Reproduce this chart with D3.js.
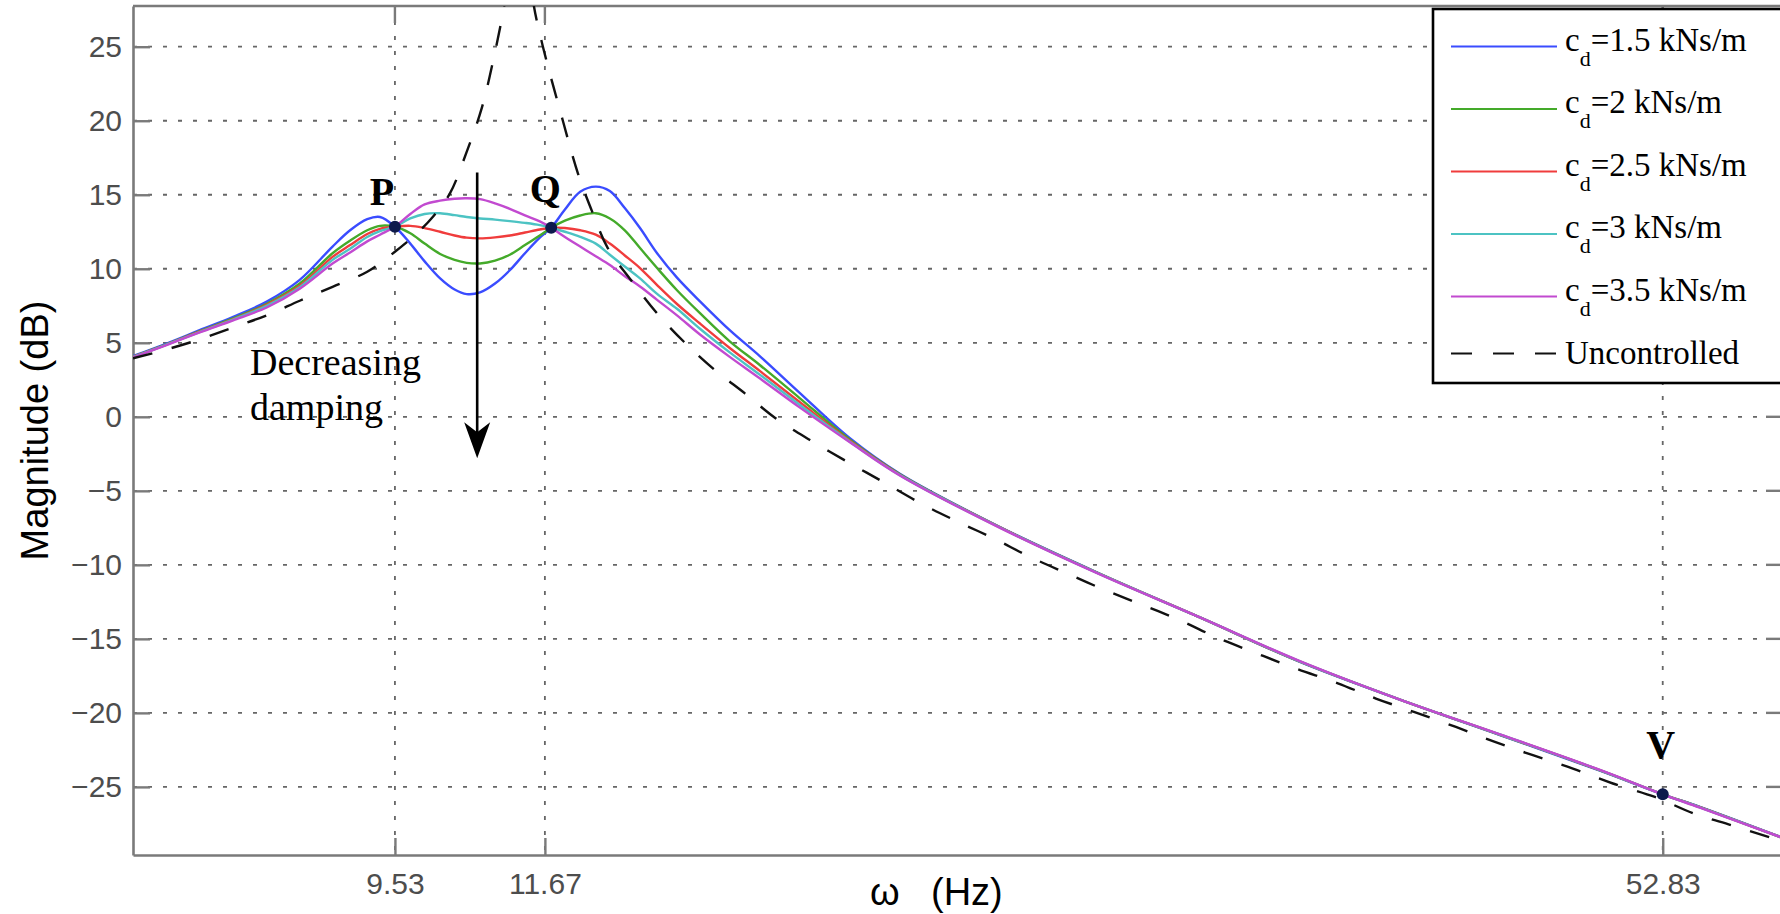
<!DOCTYPE html>
<html>
<head>
<meta charset="utf-8">
<script src="https://cdn.jsdelivr.net/npm/d3@7"></script>
<style>
  body { margin: 0; background: #fff; }
  svg { display: block; }
</style>
</head>
<body>
<svg id="chart" width="1780" height="914"></svg>
<script>
// ---------- DATA ----------
const freq = [6.69, 7.00, 7.32, 7.66, 8.02, 8.38, 8.76, 8.97, 9.18, 9.34, 9.53, 9.73, 9.92, 10.13, 10.33, 10.50, 10.69, 10.91, 11.13, 11.36, 11.59, 11.77, 11.99, 12.24, 12.50, 12.74, 13.00, 13.27, 13.58, 13.95, 14.39, 14.98, 15.60, 16.47, 17.62, 18.85, 21.58, 24.70, 28.27, 32.36, 37.04, 42.40, 48.53, 52.83, 55.55, 62.15];

const cd15 = [4.10, 4.95, 5.85, 6.75, 7.80, 9.25, 11.50, 12.60, 13.35, 13.50, 12.84, 11.70, 10.50, 9.35, 8.60, 8.29, 8.40, 9.00, 9.90, 11.05, 12.10, 12.77, 14.00, 15.20, 15.55, 15.25, 14.10, 12.75, 11.05, 9.40, 7.80, 5.85, 4.10, 1.60, -1.45, -3.85, -7.45, -10.60, -13.55, -16.55, -19.10, -21.50, -23.90, -25.50, -26.35, -28.45];
const cd20 = [4.05, 4.90, 5.78, 6.65, 7.65, 9.00, 11.05, 11.90, 12.60, 12.90, 12.84, 12.40, 11.70, 11.00, 10.60, 10.40, 10.36, 10.55, 10.95, 11.60, 12.25, 12.77, 13.25, 13.60, 13.75, 13.40, 12.60, 11.40, 10.05, 8.55, 7.00, 5.10, 3.50, 1.25, -1.55, -3.88, -7.46, -10.61, -13.55, -16.54, -19.10, -21.48, -23.88, -25.50, -26.36, -28.45];
const cd25 = [4.05, 4.88, 5.75, 6.60, 7.58, 8.85, 10.80, 11.60, 12.35, 12.70, 12.84, 12.90, 12.75, 12.50, 12.25, 12.10, 12.05, 12.12, 12.25, 12.45, 12.65, 12.77, 12.75, 12.60, 12.30, 11.70, 10.90, 10.05, 8.90, 7.62, 6.30, 4.65, 3.10, 0.98, -1.62, -3.91, -7.47, -10.62, -13.55, -16.53, -19.10, -21.47, -23.87, -25.50, -26.37, -28.45];
const cd30 = [4.03, 4.87, 5.72, 6.57, 7.52, 8.75, 10.60, 11.35, 12.15, 12.55, 12.84, 13.40, 13.70, 13.75, 13.62, 13.50, 13.40, 13.32, 13.22, 13.10, 12.95, 12.77, 12.50, 12.16, 11.70, 10.95, 10.15, 9.35, 8.30, 7.30, 5.95, 4.35, 2.85, 0.80, -1.68, -3.94, -7.48, -10.63, -13.55, -16.52, -19.10, -21.46, -23.86, -25.50, -26.38, -28.45];
const cd35 = [4.00, 4.85, 5.70, 6.52, 7.40, 8.65, 10.35, 11.10, 11.85, 12.30, 12.84, 13.70, 14.35, 14.60, 14.73, 14.76, 14.70, 14.42, 14.05, 13.60, 13.20, 12.77, 12.15, 11.50, 10.85, 10.25, 9.50, 8.80, 7.90, 6.85, 5.56, 4.05, 2.60, 0.62, -1.72, -3.96, -7.50, -10.65, -13.55, -16.50, -19.10, -21.45, -23.85, -25.50, -26.40, -28.45];

const uncFreq = [6.69, 7.00, 7.32, 7.66, 8.02, 8.38, 8.76, 9.18, 9.53, 9.817, 10.032, 10.265, 10.50, 10.719, 10.894, 11.027, 11.102, 11.268, 11.452, 11.498, 11.639, 11.958, 12.202, 12.452, 12.707, 13.108, 13.58, 14.081, 14.683, 15.290, 15.944, 16.694, 17.597, 18.424, 19.394, 20.388, 21.404, 22.471, 23.622, 24.866, 26.176, 27.518, 29.006, 30.534, 32.186, 34.064, 35.859, 37.748, 39.951, 42.113, 44.331, 46.791, 49.389, 52.273, 55.100, 58.002, 61.388, 62.15];
const uncMag = [3.95, 4.55, 5.23, 6.04, 6.87, 7.84, 8.78, 9.80, 11.15, 12.39, 13.51, 15.09, 17.90, 20.90, 24.30, 27.30, 29.50, 40.00, 29.50, 27.75, 25.00, 19.98, 16.45, 13.74, 11.38, 9.24, 6.99, 5.07, 3.16, 1.58, -0.11, -1.57, -3.10, -4.39, -5.85, -7.09, -8.22, -9.46, -10.58, -11.70, -12.72, -13.74, -14.97, -15.99, -17.00, -18.00, -19.03, -19.93, -20.95, -21.96, -22.86, -23.76, -24.77, -25.68, -26.80, -27.60, -28.49, -28.70];

const seriesValues = [cd15, cd20, cd25, cd30, cd35];
const seriesDamping = ["1.5", "2", "2.5", "3", "3.5"];
const seriesColors = ["#3a4cff", "#44aa2a", "#f03c3c", "#4cc3c3", "#c24ad0"];

const xTicks = [9.53, 11.67, 52.83];
const yTicks = [-25, -20, -15, -10, -5, 0, 5, 10, 15, 20, 25];

const keyPoints = [
  { name: "P", f: 9.53,  m: 12.84, dx: -13, dy: -22 },
  { name: "Q", f: 11.77, m: 12.77, dx: -6,  dy: -26 },
  { name: "V", f: 52.83, m: -25.5, dx: -2,  dy: -36 }
];

const arrowF = 10.65, arrowTop = 16.5, arrowTip = -2.8;

// ---------- LAYOUT ----------
const L = 133, R = 1783, T = 6, B = 855;
const svg = d3.select("#chart");
const x = d3.scaleLog().domain([6.69, 62.15]).range([L, R]);
const y = d3.scaleLinear().domain([-29.6, 27.75]).range([B, T]);

svg.append("rect").attr("width", 1780).attr("height", 914).attr("fill", "#fff");

svg.append("defs").append("clipPath").attr("id", "plotclip")
  .append("rect").attr("x", L).attr("y", T).attr("width", R - L).attr("height", B - T);

// grid
const gridColor = "#666";
const grid = svg.append("g");
grid.selectAll("line.h").data(yTicks).join("line")
  .attr("class", "h")
  .attr("x1", L).attr("x2", R).attr("y1", d => y(d)).attr("y2", d => y(d))
  .attr("stroke", gridColor).attr("stroke-width", 1.8).attr("stroke-dasharray", "4,11");
grid.selectAll("line.v").data(xTicks).join("line")
  .attr("class", "v")
  .attr("y1", T).attr("y2", B).attr("x1", d => x(d)).attr("x2", d => x(d))
  .attr("stroke", gridColor).attr("stroke-width", 1.8).attr("stroke-dasharray", "4,11");

// axes
const axisColor = "#7a7a7a";
const tickFont = "'Liberation Sans', Arial, sans-serif";
const xAxis = svg.append("g").attr("transform", `translate(0,${B})`)
  .call(d3.axisBottom(x).tickValues(xTicks).tickFormat(d3.format(".2f"))
    .tickSizeInner(-17).tickSizeOuter(0).tickPadding(18));
const yAxis = svg.append("g").attr("transform", `translate(${L},0)`)
  .call(d3.axisLeft(y).tickValues(yTicks).tickFormat(d3.format("d"))
    .tickSizeInner(-17).tickSizeOuter(0).tickPadding(11));
[xAxis, yAxis].forEach(g => {
  g.select(".domain").attr("stroke", axisColor).attr("stroke-width", 2.6);
  g.selectAll(".tick line").attr("stroke", axisColor).attr("stroke-width", 2.4);
  g.selectAll(".tick text").attr("fill", "#4d4d4d")
    .style("font-family", tickFont).style("font-size", "30px");
});
// top and right frame with ticks
const frame = svg.append("g");
frame.append("line").attr("x1", L).attr("x2", R).attr("y1", T).attr("y2", T)
  .attr("stroke", axisColor).attr("stroke-width", 2.6);
frame.append("line").attr("x1", R).attr("x2", R).attr("y1", T).attr("y2", B)
  .attr("stroke", axisColor).attr("stroke-width", 2.6);
frame.selectAll("line.tt").data(xTicks).join("line").attr("class", "tt")
  .attr("x1", d => x(d)).attr("x2", d => x(d)).attr("y1", T).attr("y2", T + 17)
  .attr("stroke", axisColor).attr("stroke-width", 2.4);
frame.selectAll("line.rt").data(yTicks).join("line").attr("class", "rt")
  .attr("y1", d => y(d)).attr("y2", d => y(d)).attr("x1", R - 17).attr("x2", R)
  .attr("stroke", axisColor).attr("stroke-width", 2.4);

// curves
const line = d3.line()
  .x(d => x(d[0])).y(d => y(d[1]))
  .curve(d3.curveCatmullRom.alpha(0.5));

const plot = svg.append("g").attr("clip-path", "url(#plotclip)");
seriesValues.forEach((vals, i) => {
  plot.append("path")
    .datum(freq.map((f, j) => [f, vals[j]]))
    .attr("d", line)
    .attr("fill", "none")
    .attr("stroke", seriesColors[i])
    .attr("stroke-width", 2.4);
});
plot.append("path")
  .datum(uncFreq.map((f, j) => [f, uncMag[j]]))
  .attr("d", line)
  .attr("fill", "none")
  .attr("stroke", "#111")
  .attr("stroke-width", 2.4)
  .attr("stroke-dasharray", "20,20");

// key points
const serif = "'Liberation Serif', 'Times New Roman', serif";
keyPoints.forEach(p => {
  const px = x(p.f), py = y(p.m);
  svg.append("circle").attr("cx", px).attr("cy", py).attr("r", 6).attr("fill", "#0d1a4d");
  svg.append("text").attr("x", px + p.dx).attr("y", py + p.dy)
    .attr("text-anchor", "middle")
    .style("font-family", serif).style("font-size", "40px").style("font-weight", "bold")
    .attr("fill", "#000").text(p.name);
});

// arrow annotation
const ax = x(arrowF), ay1 = y(arrowTop), ay2 = y(arrowTip);
svg.append("line").attr("x1", ax).attr("x2", ax).attr("y1", ay1).attr("y2", ay2 - 24)
  .attr("stroke", "#000").attr("stroke-width", 2.6);
svg.append("path")
  .attr("d", `M${ax},${ay2} L${ax - 13},${ay2 - 36} L${ax},${ay2 - 26} L${ax + 13},${ay2 - 36} Z`)
  .attr("fill", "#000");
const ann = svg.append("text").style("font-family", serif).style("font-size", "38px").attr("fill", "#000");
ann.append("tspan").attr("x", 250).attr("y", 375).text("Decreasing");
ann.append("tspan").attr("x", 250).attr("y", 420).text("damping");

// axis labels
svg.append("text")
  .attr("transform", `translate(48,${(T + B) / 2}) rotate(-90)`)
  .attr("text-anchor", "middle")
  .style("font-family", "'Liberation Sans', Arial, sans-serif").style("font-size", "38px")
  .attr("fill", "#000").text("Magnitude (dB)");
const xl = svg.append("text")
  .style("font-family", "'Liberation Sans', Arial, sans-serif").style("font-size", "38px")
  .attr("fill", "#000");
xl.append("tspan").attr("x", 870).attr("y", 905).text("ω");
xl.append("tspan").attr("x", 931).attr("y", 905).text("(Hz)");

// legend
const lg = svg.append("g");
lg.append("rect").attr("x", 1433).attr("y", 9).attr("width", 420).attr("height", 374)
  .attr("fill", "#fff").attr("stroke", "#000").attr("stroke-width", 2.6);
const legendFont = "33px";
seriesDamping.forEach((d, i) => {
  const ly = 46.5 + i * 62.5;
  lg.append("line").attr("x1", 1451).attr("x2", 1557).attr("y1", ly).attr("y2", ly)
    .attr("stroke", seriesColors[i]).attr("stroke-width", 2.2);
  const t = lg.append("text").attr("x", 1565).attr("y", ly + 4)
    .style("font-family", serif).style("font-size", legendFont).attr("fill", "#000");
  t.append("tspan").text("c");
  t.append("tspan").attr("dy", 15).style("font-size", "22px").text("d");
  t.append("tspan").attr("dy", -15).text(`=${d} kNs/m`);
});
{
  const ly = 353.5;
  lg.append("line").attr("x1", 1451).attr("x2", 1557).attr("y1", ly).attr("y2", ly)
    .attr("stroke", "#111").attr("stroke-width", 2.2).attr("stroke-dasharray", "21,21");
  lg.append("text").attr("x", 1565).attr("y", ly + 10)
    .style("font-family", serif).style("font-size", legendFont).attr("fill", "#000")
    .text("Uncontrolled");
}
</script>
</body>
</html>
